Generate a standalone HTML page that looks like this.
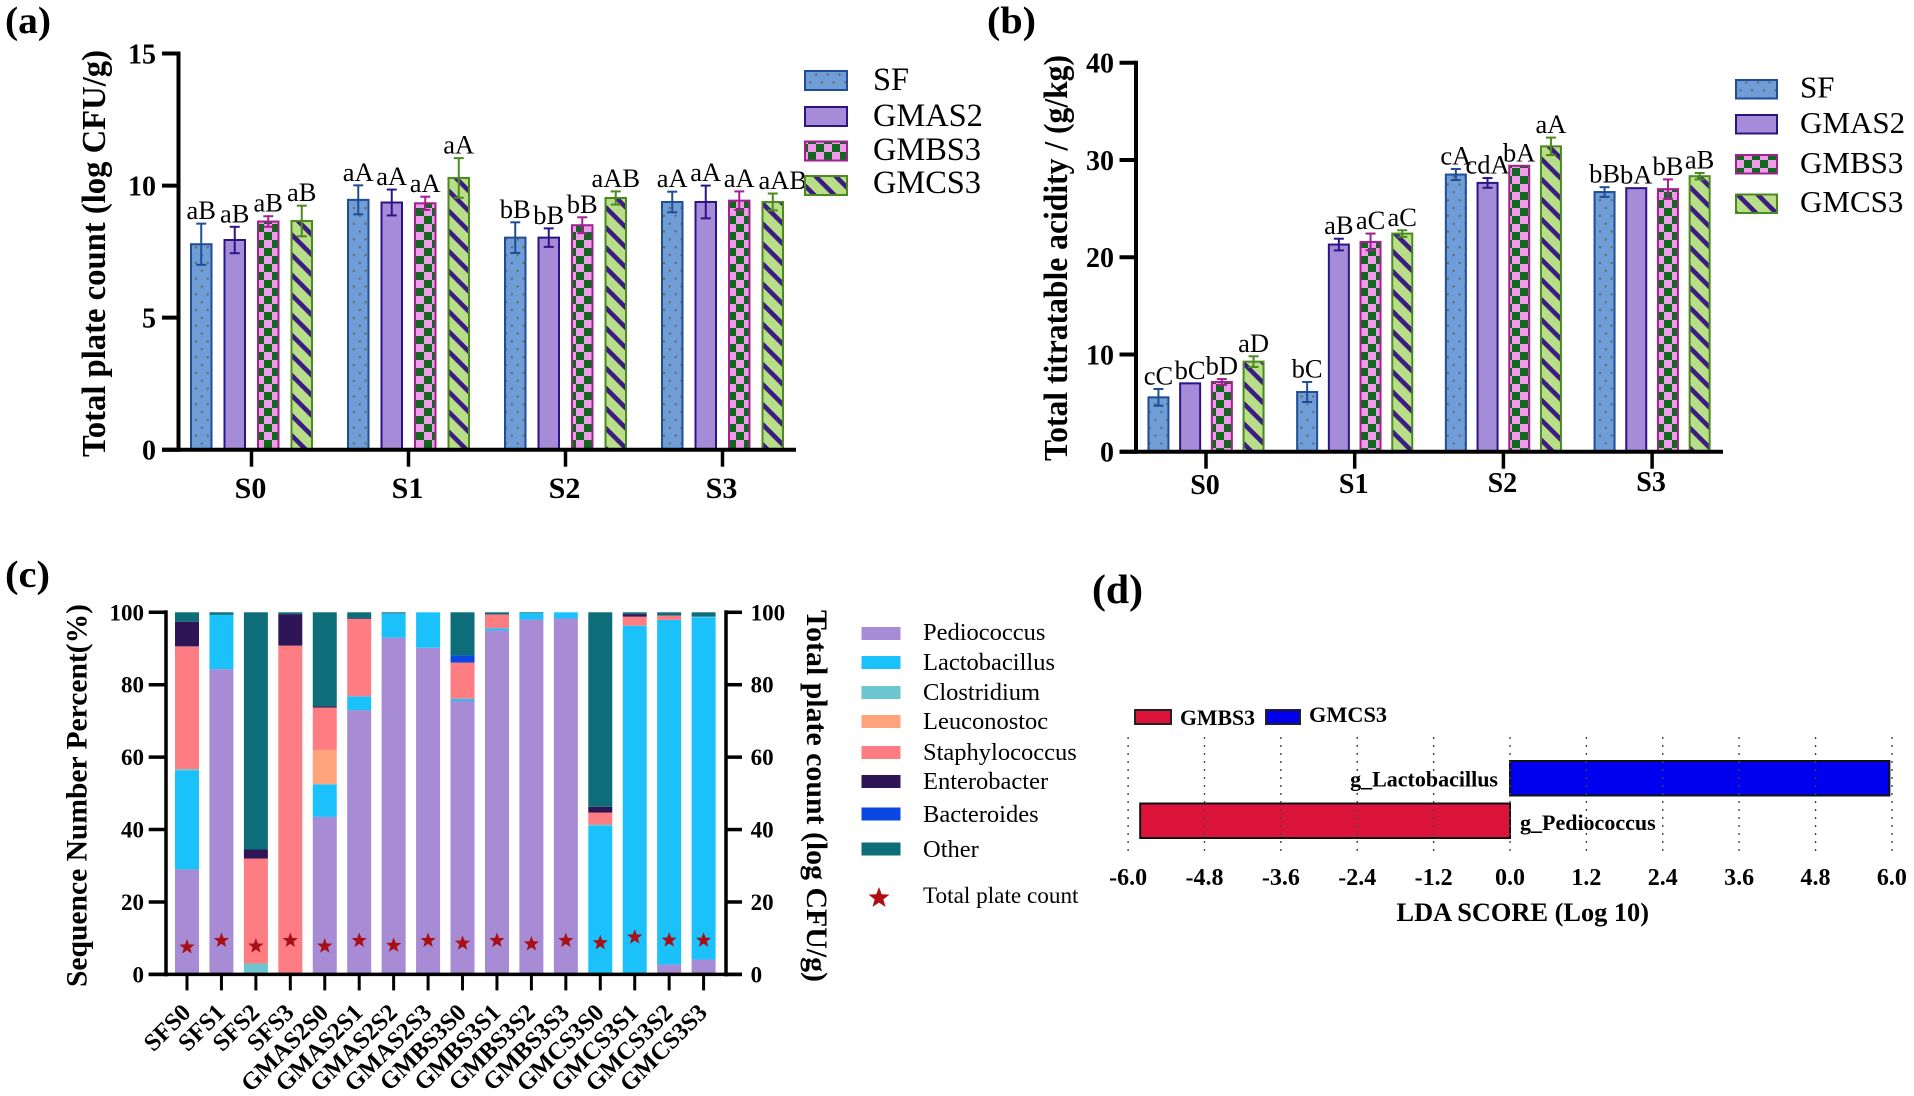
<!DOCTYPE html>
<html lang="en">
<head>
<meta charset="utf-8">
<title>Plate count, titratable acidity, microbial composition and LDA score</title>
<style>
html,body{margin:0;padding:0;background:#fff;width:1914px;height:1096px;overflow:hidden}
svg{display:block}
text{font-family:"Liberation Serif",serif;fill:#000}
</style>
</head>
<body>
<svg id="figure" xmlns="http://www.w3.org/2000/svg" width="1914" height="1096" viewBox="0 0 1914 1096">
<defs>
<pattern id="pat-dots" patternUnits="userSpaceOnUse" width="11.7" height="15.7">
<rect width="11.7" height="15.7" fill="#6f9dd8"/>
<circle cx="2.9" cy="3.9" r="1.2" fill="#6d6a5e"/>
<circle cx="8.8" cy="11.8" r="1.2" fill="#6d6a5e"/>
</pattern>
<pattern id="pat-check" patternUnits="userSpaceOnUse" width="16" height="16">
<rect width="16" height="16" fill="#f09be9"/>
<rect width="8" height="8" fill="#10681f"/>
<rect x="8" y="8" width="8" height="8" fill="#10681f"/>
</pattern>
<pattern id="pat-stripe" patternUnits="userSpaceOnUse" width="14.2" height="14.2" patternTransform="rotate(45)">
<rect width="14.2" height="14.2" fill="#b9de88"/>
<rect width="14.2" height="4.6" fill="#3d1b84"/>
</pattern>
</defs>
<g id="panel-a"></g>
<g id="panel-b"></g>
<g id="panel-c"></g>
<g id="panel-d"></g>
</svg>
<script>
// ---------- shared categories ----------
const stages = ['S0', 'S1', 'S2', 'S3'];
const treatments = ['SF', 'GMAS2', 'GMBS3', 'GMCS3'];

// ---------- panel (a) data: total plate count ----------
const aTicks = [0, 5, 10, 15];
const aSF = [7.78, 9.46, 8.03, 9.38];
const aGMAS2 = [7.94, 9.36, 8.03, 9.38];
const aGMBS3 = [8.64, 9.33, 8.5, 9.43];
const aGMCS3 = [8.66, 10.29, 9.53, 9.38];
const aSFErr = [0.78, 0.55, 0.58, 0.39];
const aGMAS2Err = [0.5, 0.49, 0.35, 0.62];
const aGMBS3Err = [0.2, 0.25, 0.3, 0.35];
const aGMCS3Err = [0.58, 0.75, 0.25, 0.32];
const aSFLabels = ['aB', 'aA', 'bB', 'aA'];
const aGMAS2Labels = ['aB', 'aA', 'bB', 'aA'];
const aGMBS3Labels = ['aB', 'aA', 'bB', 'aA'];
const aGMCS3Labels = ['aB', 'aA', 'aAB', 'aAB'];

// ---------- panel (b) data: total titratable acidity ----------
const bTicks = [0, 10, 20, 30, 40];
const bSF = [5.59, 6.14, 28.5, 26.7];
const bGMAS2 = [7.03, 21.3, 27.64, 27.1];
const bGMBS3 = [7.17, 21.57, 29.4, 27.0];
const bGMCS3 = [9.26, 22.43, 31.4, 28.33];
const bSFErr = [0.86, 1.03, 0.57, 0.5];
const bGMAS2Err = [0, 0.6, 0.5, 0];
const bGMBS3Err = [0.3, 0.86, 0, 1.0];
const bGMCS3Err = [0.55, 0.34, 0.9, 0.33];
const bSFLabels = ['cC', 'bC', 'cA', 'bB'];
const bGMAS2Labels = ['bC', 'aB', 'cdA', 'bA'];
const bGMBS3Labels = ['bD', 'aC', 'bA', 'bB'];
const bGMCS3Labels = ['aD', 'aC', 'aA', 'aB'];

// ---------- panel (c) data: sequence percent by genus ----------
const samples = ['SFS0', 'SFS1', 'SFS2', 'SFS3', 'GMAS2S0', 'GMAS2S1', 'GMAS2S2', 'GMAS2S3', 'GMBS3S0', 'GMBS3S1', 'GMBS3S2', 'GMBS3S3', 'GMCS3S0', 'GMCS3S1', 'GMCS3S2', 'GMCS3S3'];
const cTicks = [0, 20, 40, 60, 80, 100];
const genusNames = ['Pediococcus', 'Lactobacillus', 'Clostridium', 'Leuconostoc', 'Staphylococcus', 'Enterobacter', 'Bacteroides', 'Other'];
const pediococcus = [29, 84.3, 0, 0, 43.5, 73, 93, 90.2, 75.5, 95, 98, 98.3, 0, 0, 2.7, 4.1];
const lactobacillus = [27.3, 15, 0, 0, 9, 3.8, 6.7, 9.8, 0.6, 0.6, 1.8, 1.7, 41, 96.3, 95.2, 94.5];
const clostridium = [0.4, 0, 3, 0, 0, 0, 0, 0, 0, 0, 0, 0, 0.4, 0, 0, 0.2];
const leuconostoc = [0, 0, 0, 0, 9.5, 0, 0, 0, 0, 0, 0, 0, 0, 0, 0, 0];
const staphylococcus = [33.9, 0, 29, 90.8, 11.7, 21.4, 0, 0, 10, 3.8, 0, 0, 3.3, 2.5, 1.2, 0];
const enterobacter = [6.8, 0, 2.5, 8.7, 0.3, 0.2, 0, 0, 0, 0, 0, 0, 1.6, 0.7, 0, 0];
const bacteroides = [0, 0, 0, 0, 0, 0, 0, 0, 2, 0, 0, 0, 0, 0, 0, 0];
const other = [2.6, 0.7, 65.5, 0.5, 26, 1.6, 0.3, 0, 11.9, 0.6, 0.2, 0, 53.7, 0.5, 0.9, 1.2];
const plateCount = [7.55, 9.35, 7.8, 9.35, 7.8, 9.35, 8.0, 9.35, 8.6, 9.35, 8.4, 9.35, 8.7, 10.3, 9.45, 9.4];

// ---------- panel (d) data: LDA scores ----------
const ldaTicks = [-6, -4.8, -3.6, -2.4, -1.2, 0, 1.2, 2.4, 3.6, 4.8, 6];
const ldaTaxa = ['g_Lactobacillus', 'g_Pediococcus'];
const ldaScores = [5.96, -5.81];

// ---------- helpers ----------
const SVGNS = 'http://www.w3.org/2000/svg';
function mk(parent, tag, name, attrs) {
  const el = document.createElementNS(SVGNS, tag);
  
  
  for (const k in attrs) el.setAttribute(k, attrs[k]);
  parent.appendChild(el);
  return el;
}
function txt(parent, name, str, x, y, size, opt) {
  const o = opt || {};
  const a = {x: x, y: y, 'font-size': size};
  if (o.bold) a['font-weight'] = 'bold';
  if (o.anchor) a['text-anchor'] = o.anchor;
  if (o.len) { a.textLength = o.len; a.lengthAdjust = 'spacingAndGlyphs'; }
  if (o.rot !== undefined) a.transform = 'rotate(' + o.rot + ' ' + x + ' ' + y + ')';
  const el = mk(parent, 'text', name, a);
  el.textContent = str;
  return el;
}
function line(parent, name, x1, y1, x2, y2, color, w) {
  return mk(parent, 'line', name, {x1: x1, y1: y1, x2: x2, y2: y2, stroke: color, 'stroke-width': w});
}
function rect(parent, name, x, y, w, h, fill, stroke, sw) {
  return mk(parent, 'rect', name, {x: x, y: y, width: w, height: h, fill: fill, stroke: stroke || 'none', 'stroke-width': sw || 0});
}
function starPoints(cx, cy, r) {
  const pts = [];
  for (let i = 0; i < 10; i++) {
    const rad = i % 2 ? r * 0.42 : r;
    const ang = -Math.PI / 2 + i * Math.PI / 5;
    pts.push((cx + rad * Math.cos(ang)).toFixed(2) + ',' + (cy + rad * Math.sin(ang)).toFixed(2));
  }
  return pts.join(' ');
}

const treatmentFills = ['url(#pat-dots)', '#a68cd8', 'url(#pat-check)', 'url(#pat-stripe)'];
const treatmentStrokes = ['#1f4e96', '#2b1585', '#a2208f', '#4b8a1e'];

// ---------- grouped bar panels (a) and (b) ----------
function groupedPanel(g, cfg) {
  const yScale = v => cfg.y0 - v * cfg.yUnit;
  const xGroup = i => cfg.x0 + i * cfg.groupPitch;
  const xBar = (i, s) => xGroup(i) + (s - 1.5) * cfg.barPitch;

  txt(g, 'panel-label', cfg.panel, cfg.panelX, cfg.panelY, 38, {bold: true, len: cfg.panelW});

  treatments.forEach((t, s) => {
    stages.forEach((st, i) => {
      const v = cfg.values[s][i];
      const top = yScale(v);
      const cx = xBar(i, s);
      rect(g, 'bar-' + t.toLowerCase() + '-' + st.toLowerCase(), cx - cfg.barW / 2, top, cfg.barW, cfg.y0 - top, treatmentFills[s], treatmentStrokes[s], 2);
      const e = cfg.errs[s][i];
      if (e > 0) {
        line(g, 'error-bar-stem', cx, yScale(v + e), cx, yScale(v - e), treatmentStrokes[s], 2);
        line(g, 'error-bar-cap-upper', cx - 5, yScale(v + e), cx + 5, yScale(v + e), treatmentStrokes[s], 2);
        line(g, 'error-bar-cap-lower', cx - 5, yScale(v - e), cx + 5, yScale(v - e), treatmentStrokes[s], 2);
      }
      const lab = cfg.labels[s][i];
      const nudge = (cfg.panel === '(a)' && lab === 'aAB' && i === 3) ? 10 : 0;
      txt(g, 'significance-label', lab, cx + nudge, yScale(v + e) - 4.5, 26.5, {anchor: 'middle'});
    });
  });

  // axes
  line(g, 'y-axis', cfg.axisX, yScale(cfg.ticks[cfg.ticks.length - 1]) - 2, cfg.axisX, cfg.y0 + 2, '#000', 4);
  line(g, 'x-axis', cfg.axisLeft, cfg.y0, cfg.axisRight, cfg.y0, '#000', 4);
  cfg.ticks.forEach(t => {
    const y = yScale(t);
    line(g, 'y-tick', cfg.axisLeft, y, cfg.axisX, y, '#000', 4);
    txt(g, 'y-tick-label', String(t), cfg.tickLabelX, y + cfg.tickDy, 28, {bold: true, anchor: 'end'});
  });
  stages.forEach((st, i) => {
    line(g, 'x-tick', xGroup(i), cfg.y0, xGroup(i), cfg.y0 + 17, '#000', 3.5);
    txt(g, 'x-tick-label', st, xGroup(i) - cfg.xLabelShift, cfg.xLabelY - i * cfg.xLabelDrift, cfg.xLabelSize, {bold: true, anchor: 'middle'});
  });
  txt(g, 'y-axis-title', cfg.title, cfg.titleX, cfg.titleY, 34, {bold: true, anchor: 'start', len: cfg.titleLen, rot: -90});

  // legend
  treatments.forEach((t, s) => {
    rect(g, 'legend-swatch-' + t.toLowerCase(), cfg.legX, cfg.legY[s], cfg.legW, cfg.legH, treatmentFills[s], treatmentStrokes[s], 2);
    txt(g, 'legend-label-' + t.toLowerCase(), t, cfg.legTextX, cfg.legBase[s], cfg.legSize, {});
  });
}

groupedPanel(document.getElementById('panel-a'), {
  panel: '(a)', panelX: 5, panelY: 33, panelW: 46,
  values: [aSF, aGMAS2, aGMBS3, aGMCS3], errs: [aSFErr, aGMAS2Err, aGMBS3Err, aGMCS3Err],
  labels: [aSFLabels, aGMAS2Labels, aGMBS3Labels, aGMCS3Labels], ticks: aTicks,
  y0: 449.7, yUnit: 26.41, x0: 251.5, groupPitch: 157, barPitch: 33.5, barW: 20.5,
  axisX: 178.5, axisLeft: 162, axisRight: 796, tickLabelX: 156, tickDy: 10, xLabelY: 498, xLabelDrift: 0, xLabelSize: 30, xLabelShift: 1,
  title: 'Total plate count (log CFU/g)', titleX: 105, titleY: 457, titleLen: 407,
  legX: 805, legW: 42, legH: 19, legY: [71, 107, 141.5, 176], legTextX: 873, legBase: [90, 126, 160, 193], legSize: 32.4
});

groupedPanel(document.getElementById('panel-b'), {
  panel: '(b)', panelX: 987, panelY: 33, panelW: 49,
  values: [bSF, bGMAS2, bGMBS3, bGMCS3], errs: [bSFErr, bGMAS2Err, bGMBS3Err, bGMCS3Err],
  labels: [bSFLabels, bGMAS2Labels, bGMBS3Labels, bGMCS3Labels], ticks: bTicks,
  y0: 451.7, yUnit: 9.725, x0: 1206, groupPitch: 148.7, barPitch: 31.7, barW: 20,
  axisX: 1136, axisLeft: 1119.5, axisRight: 1723, tickLabelX: 1114, tickDy: 10, xLabelY: 494, xLabelDrift: 1, xLabelSize: 28, xLabelShift: 1,
  title: 'Total titratable acidity / (g/kg)', titleX: 1067, titleY: 461, titleLen: 406,
  legX: 1736, legW: 41, legH: 18.5, legY: [80, 115, 155, 194.5], legTextX: 1800, legBase: [97.5, 133, 173, 212], legSize: 31
});

// ---------- panel (c) ----------
(function () {
  const g = document.getElementById('panel-c');
  const y0 = 974.4, yUnit = 3.621, x0 = 187, pitch = 34.44, barW = 24;
  const leftX = 166, rightX = 726;
  const yScale = v => y0 - v * yUnit;
  const xBar = i => x0 + i * pitch;
  const genusColors = ['#a78bd4', '#1bc1fb', '#6cc6cf', '#ffa37c', '#fd7d82', '#2d1556', '#0a46e2', '#0d6e79'];
  const genusValues = [pediococcus, lactobacillus, clostridium, leuconostoc, staphylococcus, enterobacter, bacteroides, other];

  txt(g, 'panel-label', '(c)', 5, 587, 38, {bold: true, len: 45});

  samples.forEach((s, i) => {
    let base = 0;
    genusValues.forEach((vals, k) => {
      const v = vals[i];
      if (v > 0) {
        rect(g, 'stack-' + genusNames[k].toLowerCase() + '-' + s.toLowerCase(), xBar(i) - barW / 2, yScale(base + v), barW, v * yUnit, genusColors[k]);
      }
      base += v;
    });
  });

  plateCount.forEach((v, i) => {
    mk(g, 'polygon', 'plate-count-star-' + samples[i].toLowerCase(), {points: starPoints(xBar(i), yScale(v), 8), fill: '#a80f16'});
  });

  line(g, 'left-y-axis', leftX, yScale(100) - 2, leftX, y0 + 2, '#000', 3.5);
  line(g, 'right-y-axis', rightX, yScale(100) - 2, rightX, y0 + 2, '#000', 3.5);
  line(g, 'x-axis', 148.7, y0, 742, y0, '#000', 3.5);
  cTicks.forEach(t => {
    const y = yScale(t);
    line(g, 'left-y-tick', 148.7, y, leftX, y, '#000', 3.5);
    line(g, 'right-y-tick', rightX, y, 742, y, '#000', 3.5);
    txt(g, 'left-y-tick-label', String(t), 144, y + 8, 23, {bold: true, anchor: 'end'});
    txt(g, 'right-y-tick-label', String(t), 750.6, y + 8, 23, {bold: true, anchor: 'start'});
  });
  samples.forEach((s, i) => {
    line(g, 'x-tick', xBar(i), y0, xBar(i), y0 + 16, '#000', 3);
    txt(g, 'x-tick-label', s, xBar(i) + 5, 1014, 24.5, {bold: true, anchor: 'end', rot: -45});
  });

  txt(g, 'left-y-axis-title', 'Sequence Number Percent(%)', 86.5, 987, 30, {bold: true, len: 383, rot: -90});
  txt(g, 'right-y-axis-title', 'Total plate count (log CFU/g)', 807, 610, 30, {bold: true, len: 372, rot: 90});

  const legendSwatchY = [627, 656, 686, 715, 746, 775, 807.5, 842.5];
  const legendBase = [640, 670, 700, 729, 760, 789, 822, 857];
  genusNames.forEach((n, k) => {
    rect(g, 'legend-swatch-' + n.toLowerCase(), 861.5, legendSwatchY[k], 39, 13, genusColors[k]);
    txt(g, 'legend-label-' + n.toLowerCase(), n, 923, legendBase[k], 24.5, {});
  });
  mk(g, 'polygon', 'legend-star-total-plate-count', {points: starPoints(879, 898, 11), fill: '#b00d14'});
  txt(g, 'legend-label-total-plate-count', 'Total plate count', 923, 903, 23.2, {});
})();

// ---------- panel (d) ----------
(function () {
  const g = document.getElementById('panel-d');
  const x0 = 1510, xUnit = 63.65;
  const xScale = v => x0 + v * xUnit;
  const rowTop = [761, 803.5];
  const rowH = 34.5;
  const barFill = ['#0000ee', '#dc143c'];

  txt(g, 'panel-label', '(d)', 1092, 603, 41, {bold: true, len: 51});

  rect(g, 'legend-swatch-gmbs3', 1135, 710, 36, 14, '#dc143c', '#222', 2);
  txt(g, 'legend-label-gmbs3', 'GMBS3', 1180, 725, 22, {bold: true, len: 75});
  rect(g, 'legend-swatch-gmcs3', 1266, 710, 34, 14, '#0000ee', '#222', 2);
  txt(g, 'legend-label-gmcs3', 'GMCS3', 1309, 722, 22, {bold: true, len: 78});

  ldaScores.forEach((v, i) => {
    const left = Math.min(xScale(0), xScale(v));
    rect(g, 'lda-bar-' + ldaTaxa[i].toLowerCase(), left, rowTop[i], Math.abs(xScale(v) - xScale(0)), rowH, barFill[i], '#111', 2);
  });

  ldaTicks.forEach(t => {
    const x = xScale(t);
    const gl = line(g, 'lda-gridline', x, 737, x, 855, '#444', 1.4);
    gl.setAttribute('stroke-dasharray', '2 6');
    txt(g, 'x-tick-label', t.toFixed(1), x, 885, 24, {bold: true, anchor: 'middle'});
  });

  ldaScores.forEach((v, i) => {
    const rowBase = i === 0 ? 786.5 : 830;
    if (v > 0) txt(g, 'taxon-label-' + ldaTaxa[i].toLowerCase(), ldaTaxa[i], xScale(0) - 12, rowBase, 22, {bold: true, anchor: 'end'});
    else txt(g, 'taxon-label-' + ldaTaxa[i].toLowerCase(), ldaTaxa[i], xScale(0) + 10, rowBase, 22, {bold: true, anchor: 'start'});
  });

  txt(g, 'x-axis-title', 'LDA SCORE (Log 10)', 1396.5, 921, 26, {bold: true, len: 252.5});
})();
</script>
</body>
</html>
